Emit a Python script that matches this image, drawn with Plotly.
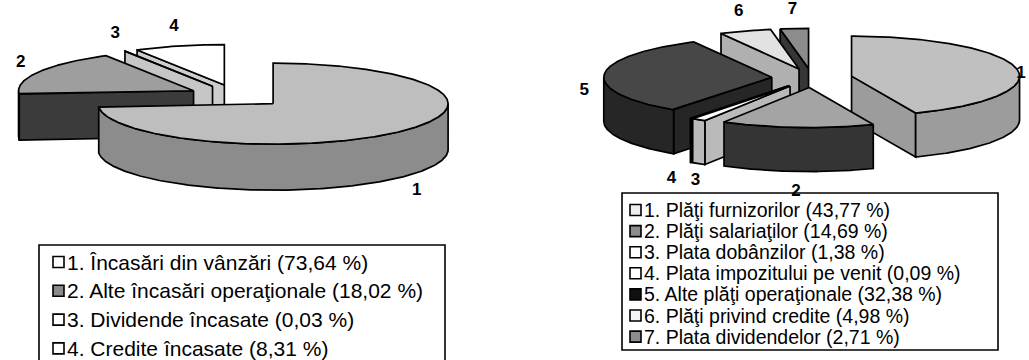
import numpy as np
import plotly.graph_objects as go

# ---------------- data ----------------
receipt_names = [
    "Încasări din vânzări",
    "Alte încasări operaţionale",
    "Dividende încasate",
    "Credite încasate",
]
receipt_shares = [73.64, 18.02, 0.03, 8.31]

payment_names = [
    "Plăţi furnizorilor",
    "Plăţi salariaţilor",
    "Plata dobânzilor",
    "Plata impozitului pe venit",
    "Alte plăţi operaţionale",
    "Plăţi privind credite",
    "Plata dividendelor",
]
payment_shares = [43.77, 14.69, 1.38, 0.09, 32.38, 4.98, 2.71]

# ---------------- styling ----------------
receipt_top = ["#bebebe", "#9e9e9e", "#ededed", "#ffffff"]
receipt_side = ["#8c8c8c", "#3b3b3b", "#c6c6c6", "#cdcdcd"]
receipt_key = ["#ffffff", "#8a8a8a", "#ffffff", "#ffffff"]

payment_top = ["#c0c0c0", "#a4a4a4", "#ffffff", "#ffffff", "#474747", "#e2e2e2", "#8c8c8c"]
payment_side = ["#9c9c9c", "#343434", "#bababa", "#bababa", "#262626", "#b0b0b0", "#363636"]
payment_key = ["#eeeeee", "#8c8c8c", "#ffffff", "#ffffff", "#111111", "#f4f4f4", "#8c8c8c"]

FIG_W, FIG_H = 1029, 360
TEXT_FONT = "Liberation Sans, Arial, Helvetica, sans-serif"
EDGE = dict(color="black", width=1.7)

fig = go.Figure()


def polygon(xs, ys, color):
    fig.add_trace(go.Scatter(
        x=list(xs), y=list(ys), mode="lines", fill="toself",
        fillcolor=color, line=EDGE, hoverinfo="skip", showlegend=False,
    ))


def pie3d(shares, top_cols, side_cols, cx, cy, rx, ry, depth, explode):
    """Draw an exploded, tilted 3D pie; slices run clockwise from 12 o'clock.
    Returns label anchor points, one per slice."""
    vals = np.asarray(shares, dtype=float)
    frac = vals / vals.sum()
    ends = 90.0 - 360.0 * np.cumsum(frac)
    starts = ends + 360.0 * frac
    mids = (starts + ends) / 2.0

    # painter's order: farthest slice first
    order = np.argsort(-np.sin(np.radians(mids)), kind="stable")
    label_pts = [None] * len(vals)

    for i in order:
        a0, a1, am = starts[i], ends[i], mids[i]
        m = np.radians(am)
        ox = cx + explode * rx * np.cos(m)
        oy = cy - explode * ry * np.sin(m)

        def rim(a):
            r = np.radians(a)
            return ox + rx * np.cos(r), oy - ry * np.sin(r)

        # radial side walls that face the viewer
        for a, visible in ((a0, np.cos(np.radians(a0)) < -1e-6),
                           (a1, np.cos(np.radians(a1)) > 1e-6)):
            if visible:
                px, py = rim(a)
                polygon([ox, px, px, ox, ox],
                        [oy, py, py + depth, oy + depth, oy], side_cols[i])

        # curved outer wall on the front half
        lo, hi = max(a1, -180.0), min(a0, 0.0)
        if hi > lo:
            aa = np.linspace(hi, lo, max(4, int((hi - lo) * 2)))
            px, py = rim(aa)
            polygon(np.concatenate([px, px[::-1], px[:1]]),
                    np.concatenate([py, py[::-1] + depth, py[:1]]), side_cols[i])

        # top face
        aa = np.linspace(a0, a1, max(4, int((a0 - a1) * 2)))
        px, py = rim(aa)
        polygon(np.concatenate([[ox], px, [ox]]),
                np.concatenate([[oy], py, [oy]]), top_cols[i])

        # label anchor just outside the rim
        lx, ly = rim(am)
        drop = depth * np.clip(0.5 - 1.5 * np.sin(m), 0.0, 1.0)
        label_pts[i] = [lx + 20 * np.cos(m), ly + drop - 20 * np.sin(m)]

    # keep neighbouring labels of thin slices apart and inside the frame
    for _ in range(3):
        for a in range(len(label_pts)):
            for b in range(a + 1, len(label_pts)):
                pa, pb = label_pts[a], label_pts[b]
                if abs(pa[0] - pb[0]) < 18 and abs(pa[1] - pb[1]) < 16:
                    mid_x = (pa[0] + pb[0]) / 2
                    sign = 1 if pa[0] >= pb[0] else -1
                    pa[0] = mid_x + sign * 12
                    pb[0] = mid_x - sign * 12
    for p in label_pts:
        p[0] = min(max(p[0], 8), FIG_W - 8)
        p[1] = min(max(p[1], 10), FIG_H - 10)
    return label_pts


def pie_labels(points):
    fig.add_trace(go.Scatter(
        x=[p[0] for p in points], y=[p[1] for p in points],
        mode="text", text=[str(k + 1) for k in range(len(points))],
        textposition="middle center",
        textfont=dict(family=TEXT_FONT, size=17, color="black", weight="bold"),
        hoverinfo="skip", showlegend=False, cliponaxis=False,
    ))


def key_box(names, shares, swatches, x0, x1, y0, y1, first_row, pitch,
            sw_x, txt_x, size):
    fig.add_shape(type="rect", xref="x", yref="y", x0=x0, x1=x1, y0=y0, y1=y1,
                  line=dict(color="black", width=1.6), fillcolor="rgba(0,0,0,0)")
    for k, (name, val, col) in enumerate(zip(names, shares, swatches)):
        yc = first_row + k * pitch
        fig.add_shape(type="rect", xref="x", yref="y",
                      x0=sw_x, x1=sw_x + 11, y0=yc - 5.5, y1=yc + 5.5,
                      line=dict(color="black", width=1.6), fillcolor=col)
        value_txt = f"{val:.2f}".replace(".", ",")
        label = f"{k + 1}. {name} ({value_txt} %)"
        fig.add_annotation(
            x=txt_x, y=yc, xref="x", yref="y", text=label, showarrow=False,
            xanchor="left", yanchor="middle", borderpad=0,
            font=dict(family=TEXT_FONT, size=size, color="black"),
        )


# cash receipts pie
rec_pts = pie3d(receipt_shares, receipt_top, receipt_side,
                cx=237, cy=96, rx=175, ry=40.5, depth=46, explode=0.28)
pie_labels(rec_pts)

# cash payments pie
pay_pts = pie3d(payment_shares, payment_top, payment_side,
                cx=812, cy=78, rx=168, ry=40, depth=44, explode=0.24)
pie_labels(pay_pts)

key_box(receipt_names, receipt_shares, receipt_key,
        x0=39, x1=445, y0=245, y1=400,
        first_row=262, pitch=28.8, sw_x=53, txt_x=66, size=21)
key_box(payment_names, payment_shares, payment_key,
        x0=622, x1=998, y0=193, y1=350,
        first_row=210, pitch=21.1, sw_x=630, txt_x=643, size=19.5)

fig.update_layout(
    width=FIG_W, height=FIG_H, autosize=False,
    margin=dict(l=0, r=0, t=0, b=0, pad=0),
    paper_bgcolor="white", plot_bgcolor="white",
    xaxis=dict(range=[0, FIG_W], visible=False, fixedrange=True),
    yaxis=dict(range=[FIG_H, 0], visible=False, fixedrange=True),
    showlegend=False,
)

fig.write_html("out.html", config={"displayModeBar": False})
